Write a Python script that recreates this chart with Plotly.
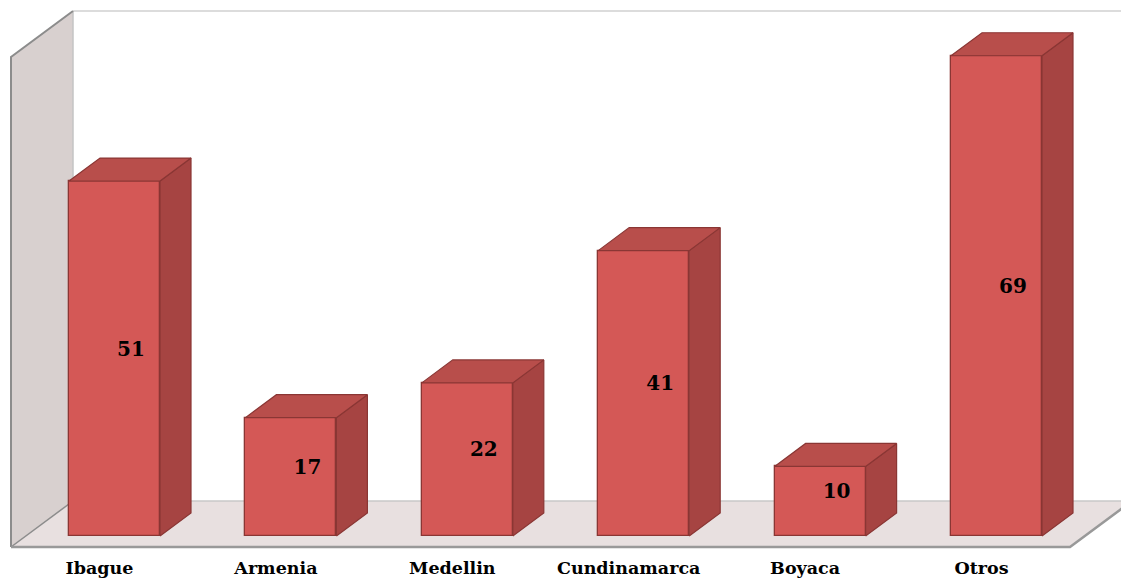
import plotly.graph_objects as go

# ---------------- data ----------------
categories = ["Ibague", "Armenia", "Medellin", "Cundinamarca", "Boyaca", "Otros"]
values = [51, 17, 22, 41, 10, 69]

# ---------------- styling / geometry (pixel-based scale) ----------------
W, H = 1121, 581
PX = 176.4          # pixels per category step
PY = 6.96           # pixels per value unit
X_ORIGIN = 114.5    # pixel x of first bar's front face centre
Y_ORIGIN = 536.0    # pixel y of value 0 (front face bottom)

def xd(px):
    return (px - X_ORIGIN) / PX

def yd(py):
    return (Y_ORIGIN - py) / PY

HW = 45.5 / PX      # half bar width (data units)
DDX = 31 / PX       # depth offset in x
DDY = 23 / PY       # depth offset in y

FRONT = "#D45856"
TOP = "#B84E4B"
SIDE = "#A64442"
EDGE = "#8A3634"

fig = go.Figure()
shapes = []

def shape_poly(xs, ys, fill):
    path = "M " + " L ".join(f"{x},{y}" for x, y in zip(xs, ys)) + " Z"
    shapes.append(dict(type="path", path=path, xref="x", yref="y",
                       fillcolor=fill, line=dict(width=0), layer="below"))

def shape_line(xs, ys, color, width):
    path = "M " + " L ".join(f"{x},{y}" for x, y in zip(xs, ys))
    shapes.append(dict(type="path", path=path, xref="x", yref="y",
                       line=dict(color=color, width=width), layer="below"))

def poly(xs, ys, fill, line_color, line_width=1):
    fig.add_trace(go.Scatter(
        x=xs + [xs[0]], y=ys + [ys[0]], mode="lines", fill="toself",
        fillcolor=fill, line=dict(color=line_color, width=line_width),
        hoverinfo="skip", showlegend=False))

# ---------------- walls & floor ----------------
fl_x0 = xd(11)
fl_x1 = xd(1070)
fl_y0 = yd(547)
fl_bx = 2 * DDX
fl_by = 2 * DDY
wall_top = yd(57)
right_edge = xd(W + 20)

# side wall
shape_poly([fl_x0, fl_x0 + fl_bx, fl_x0 + fl_bx, fl_x0],
           [fl_y0, fl_y0 + fl_by, wall_top + fl_by, wall_top], "#D8D0CF")
# floor
shape_poly([fl_x0, fl_x1, fl_x1 + fl_bx, fl_x0 + fl_bx],
           [fl_y0, fl_y0, fl_y0 + fl_by, fl_y0 + fl_by], "#E8E0E0")
# back wall top edge
shape_line([fl_x0 + fl_bx, right_edge], [wall_top + fl_by, wall_top + fl_by], "#D0D0D0", 1.5)
# back vertical edge
shape_line([fl_x0 + fl_bx, fl_x0 + fl_bx], [fl_y0 + fl_by, wall_top + fl_by], "#C4C4C4", 1.5)
# floor back edge
shape_line([fl_x0 + fl_bx, fl_x1 + fl_bx], [fl_y0 + fl_by, fl_y0 + fl_by], "#C8C8C8", 1.5)
# wall/floor diagonal
shape_line([fl_x0, fl_x0 + fl_bx], [fl_y0, fl_y0 + fl_by], "#8C8C8C", 1.5)
# side wall outer edges
shape_line([fl_x0, fl_x0, fl_x0 + fl_bx], [fl_y0, wall_top, wall_top + fl_by], "#8C8C8C", 2)
# floor front edge
shape_line([fl_x0, fl_x1, fl_x1 + fl_bx], [fl_y0, fl_y0, fl_y0 + fl_by], "#999999", 2.5)

# ---------------- bars ----------------
xs = list(range(len(categories)))

fig.add_trace(go.Bar(
    x=xs, y=values, width=2 * HW, base=0,
    marker=dict(color=FRONT, line=dict(color=EDGE, width=1.3)),
    hoverinfo="skip", showlegend=False))

for i, v in zip(xs, values):
    # side face
    poly([i + HW, i + HW + DDX, i + HW + DDX, i + HW],
         [0, DDY, v + DDY, v], SIDE, EDGE, 1.2)
    # top face
    poly([i - HW, i - HW + DDX, i + HW + DDX, i + HW],
         [v, v + DDY, v + DDY, v], TOP, EDGE, 1.2)

# value labels (centre of the 3D bar)
fig.add_trace(go.Scatter(
    x=[i + DDX / 2 + 1 / PX for i in xs],
    y=[v / 2 + DDY / 2 - 3.5 / PY for v in values],
    mode="text", text=[f"<b>{v}</b>" for v in values],
    textfont=dict(family="DejaVu Serif", size=20, color="#000000"),
    textposition="middle center", hoverinfo="skip", showlegend=False))

# category labels (projected onto floor front edge)
fig.add_trace(go.Scatter(
    x=[i - 15 / PX for i in xs],
    y=[yd(569.5)] * len(xs),
    mode="text", text=[f"<b>{c}</b>" for c in categories],
    textfont=dict(family="DejaVu Serif", size=17.5, color="#000000"),
    textposition="middle center", hoverinfo="skip", showlegend=False))

fig.update_layout(
    width=W, height=H,
    margin=dict(l=0, r=0, t=0, b=0),
    paper_bgcolor="white", plot_bgcolor="white",
    xaxis=dict(range=[xd(0), xd(W)], visible=False, fixedrange=True),
    yaxis=dict(range=[yd(H), yd(0)], visible=False, fixedrange=True),
    bargap=0,
    shapes=shapes,
)

fig.write_html("out.html", config={"displayModeBar": False})
